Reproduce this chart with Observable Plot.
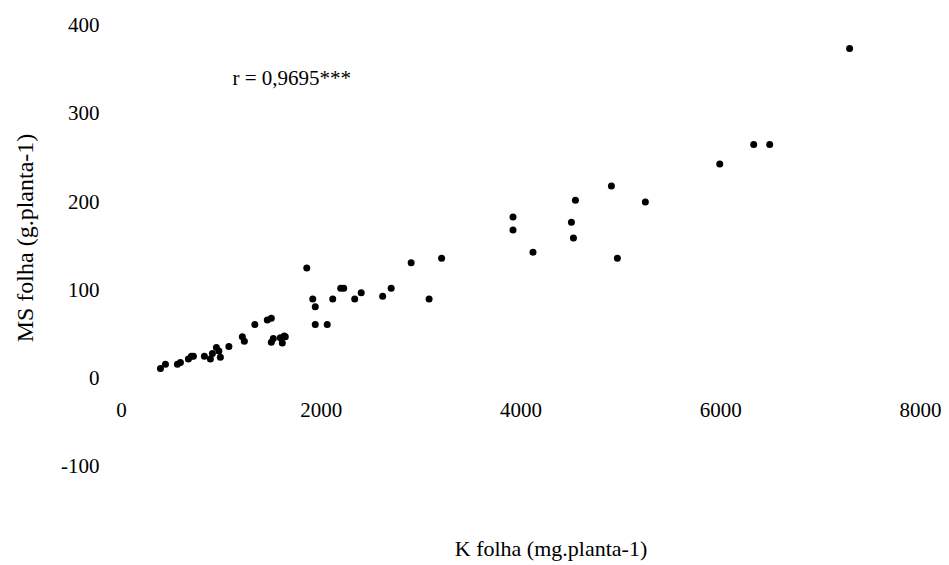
<!DOCTYPE html>
<html>
<head>
<meta charset="utf-8">
<script src="https://cdn.jsdelivr.net/npm/d3@7"></script>
<script src="https://cdn.jsdelivr.net/npm/@observablehq/plot@0.6"></script>
<style>
  html, body { margin: 0; padding: 0; background: #fff; }
</style>
</head>
<body>
<div id="chart"></div>
<script>
const kFolha = [390,440,560,590,670,700,720,830,890,910,950,975,990,1075,1210,1230,1335,1460,1500,1500,1520,1590,1610,1630,1640,1855,1915,1940,1940,2060,2115,2195,2225,2335,2400,2615,2700,2900,3080,3205,3920,3920,4120,4505,4525,4545,4905,4965,5245,5990,6330,6490,7290];
const msFolha = [11,16,16,18,22,25,25,25,22,28,35,31,24,36,47,42,61,66,68,41,45,46,40,48,47,125,90,81,61,61,90,102,102,90,97,93,102,131,90,136,183,168,143,177,159,202,218,136,200,243,265,265,374];
const xTicks = [0,2000,4000,6000,8000];
const yTicks = [-100,0,100,200,300,400];
const xLabel = "K folha (mg.planta-1)";
const yLabel = "MS folha (g.planta-1)";
const annotation = [{k: 1111, ms: 340, text: "r = 0,9695***"}];

const points = kFolha.map((k, i) => ({k, ms: msFolha[i]}));

const chart = Plot.plot({
  width: 949,
  height: 565,
  marginLeft: 121,
  marginRight: 29,
  marginTop: 25,
  marginBottom: 99,
  x: {domain: [0, 8000]},
  y: {domain: [-100, 400]},
  style: {fontFamily: "'Liberation Serif', 'Times New Roman', serif", fontSize: "21px", color: "#000", background: "#fff"},
  marks: [
    Plot.axisY(yTicks, {tickSize: 0, tickPadding: 22, label: null, tickFormat: d => String(d), fontSize: 21}),
    Plot.axisX({ticks: [], label: null, tickSize: 0}),
    Plot.text(xTicks, {x: d => d, y: 0, dy: 32, text: d => String(d), fontSize: 21}),
    Plot.dot(points, {x: "k", y: "ms", r: 3.5, fill: "#000", stroke: "none"}),
    Plot.text(annotation, {x: "k", y: "ms", text: "text", textAnchor: "start", fontSize: 21}),
    Plot.text([yLabel], {text: d => d, frameAnchor: "left", textAnchor: "middle", lineAnchor: "middle", dx: -96, dy: -8, rotate: -90, fontSize: 24}),
    Plot.text([xLabel], {text: d => d, frameAnchor: "bottom", textAnchor: "middle", lineAnchor: "middle", dx: 30, dy: 82, fontSize: 22})
  ]
});
document.getElementById("chart").appendChild(chart);
</script>
</body>
</html>
